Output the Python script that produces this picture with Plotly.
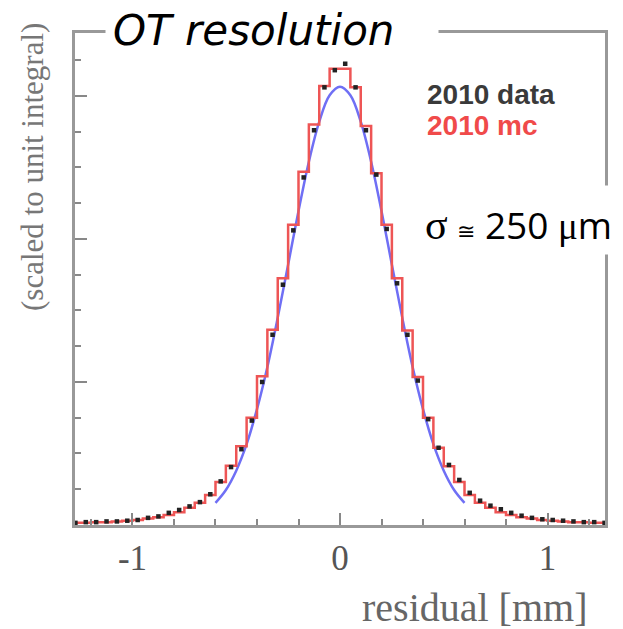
import plotly.graph_objects as go

# ---- data ----
bin_centers = [-1.275, -1.225, -1.175, -1.125, -1.075, -1.025, -0.975, -0.925, -0.875, -0.825,
               -0.775, -0.725, -0.675, -0.625, -0.575, -0.525, -0.475, -0.425, -0.375, -0.325,
               -0.275, -0.225, -0.175, -0.125, -0.075, -0.025,
               0.025, 0.075, 0.125, 0.175, 0.225, 0.275, 0.325, 0.375, 0.425, 0.475,
               0.525, 0.575, 0.625, 0.675, 0.725, 0.775, 0.825, 0.875, 0.925, 0.975,
               1.025, 1.075, 1.125, 1.175, 1.225, 1.275]

mc_2010 = [0.0003, 0.0003, 0.0004, 0.0004, 0.0005, 0.0006, 0.0007, 0.0009, 0.0011, 0.0014,
           0.0018, 0.0024, 0.0031, 0.0042, 0.0060, 0.0083, 0.0110, 0.0150, 0.0208, 0.0273,
           0.0345, 0.0420, 0.0494, 0.0560, 0.0614, 0.0638,
           0.0638, 0.0612, 0.0558, 0.0492, 0.0420, 0.0345, 0.0272, 0.0207, 0.0150, 0.0108,
           0.0082, 0.0060, 0.0042, 0.0031, 0.0024, 0.0018, 0.0014, 0.0011, 0.0009, 0.0007,
           0.0006, 0.0005, 0.0004, 0.0004, 0.0003, 0.0003]

data_2010 = [0.0003, 0.0004, 0.0004, 0.0005, 0.0005, 0.0006, 0.0007, 0.0010, 0.0012, 0.0017,
             0.0021, 0.0026, 0.0032, 0.0043, 0.0061, 0.0081, 0.0106, 0.0146, 0.0200, 0.0266,
             0.0336, 0.0412, 0.0486, 0.0552, 0.0612, 0.0636,
             0.0645, 0.0612, 0.0552, 0.0490, 0.0414, 0.0338, 0.0266, 0.0202, 0.0148, 0.0108,
             0.0084, 0.0063, 0.0045, 0.0034, 0.0027, 0.0022, 0.0017, 0.0013, 0.0010, 0.0008,
             0.0007, 0.0006, 0.0005, 0.0004, 0.0004, 0.0003]

fit_x = [-0.60, -0.55, -0.50, -0.45, -0.40, -0.35, -0.30, -0.25, -0.20, -0.15, -0.10, -0.05, 0.00,
         0.05, 0.10, 0.15, 0.20, 0.25, 0.30, 0.35, 0.40, 0.45, 0.50, 0.55, 0.60]
fit_y = [0.0031, 0.0049, 0.0076, 0.0113, 0.0162, 0.0221, 0.0290, 0.0364, 0.0439, 0.0508, 0.0564, 0.0601, 0.0613,
         0.0601, 0.0564, 0.0508, 0.0439, 0.0364, 0.0290, 0.0221, 0.0162, 0.0113, 0.0076, 0.0049, 0.0031]

x_tick_vals = [-1, 0, 1]
x_tick_text = ["-1", "0", "1"]

# ---- layout helpers (pixel -> paper) ----
W, H = 623, 629
L, R, T, B = 75, 18, 33, 104
PW, PH = W - L - R, H - T - B


def px(x):
    return (x - L) / PW


def py(y):
    return (H - B - y) / PH


fig = go.Figure()
fig.add_trace(go.Scatter(x=fit_x, y=fit_y, mode="lines", line=dict(color="#6f6ff5", width=2.5, shape="spline"),
                         showlegend=False, hoverinfo="skip"))
fig.add_trace(go.Scatter(x=bin_centers, y=mc_2010, mode="lines", line=dict(color="#ee5555", width=2.5, shape="hvh"),
                         showlegend=False))
fig.add_trace(go.Scatter(x=bin_centers, y=data_2010, mode="markers",
                         marker=dict(color="#222222", size=4.5, symbol="square"), showlegend=False))

gray = "#999999"
fig.update_xaxes(range=[-1.277, 1.277], showgrid=False, zeroline=False,
                 showline=True, linecolor=gray, linewidth=3, mirror=True,
                 tickmode="array", tickvals=x_tick_vals, ticktext=x_tick_text,
                 ticks="inside", ticklen=12, tickwidth=1.5, tickcolor="#888",
                 tickfont=dict(family="Liberation Serif", size=35, color="#555"),
                 minor=dict(tickmode="linear", tick0=0, dtick=0.2, ticks="inside", ticklen=6,
                            tickwidth=1.5, tickcolor="#888"))
fig.update_yaxes(range=[0, 0.0688], showgrid=False, zeroline=False,
                 showline=True, linecolor=gray, linewidth=3, mirror=True,
                 showticklabels=False, tickmode="linear", tick0=0, dtick=0.02,
                 ticks="inside", ticklen=12, tickwidth=1.5, tickcolor="#888",
                 minor=dict(tickmode="linear", tick0=0, dtick=0.005, ticks="inside", ticklen=6,
                            tickwidth=1.5, tickcolor="#888"))

annotations = [
    # y-axis title
    dict(text="(scaled to unit integral)", x=px(32), y=py(167), xref="paper", yref="paper",
         xanchor="center", yanchor="middle",
         textangle=-90, showarrow=False, font=dict(family="Liberation Serif", size=31, color="#777")),
    # x-axis title
    dict(text="residual [mm]", x=px(590), y=py(607), xref="paper", yref="paper", xanchor="right",
         yanchor="middle", showarrow=False, font=dict(family="Liberation Serif", size=40, color="#666")),
    # white box behind the title
    dict(text=" ", x=px(105), y=py(31), xref="paper", yref="paper",
         xanchor="left", yanchor="middle", width=330, height=40, bgcolor="white",
         showarrow=False, font=dict(size=10)),
    # title
    dict(text="<i>OT resolution</i>", x=px(111), y=py(31), xref="paper", yref="paper",
         xanchor="left", yanchor="middle", showarrow=False,
         font=dict(family="DejaVu Sans", size=42, color="black")),
    # legend texts
    dict(text="<b>2010 data</b>", x=px(425), y=py(95), xref="paper", yref="paper",
         xanchor="left", yanchor="middle", showarrow=False,
         font=dict(family="Liberation Sans", size=28, color="#3a3a3a")),
    dict(text="<b>2010 mc</b>", x=px(425), y=py(126), xref="paper", yref="paper",
         xanchor="left", yanchor="middle", showarrow=False,
         font=dict(family="Liberation Sans", size=28, color="#f04a4a")),
    # white box behind sigma text
    dict(text=" ", x=px(410), y=py(220), xref="paper", yref="paper",
         xanchor="left", yanchor="middle", width=213, height=66, bgcolor="white",
         showarrow=False, font=dict(size=10)),
    # sigma text
    dict(text="<span style='font-family:Liberation Serif;font-size:42px'>σ</span> <span style='font-size:22px'>≅</span> 250 <span style='font-family:Liberation Serif'>μ</span>m",
         x=px(423), y=py(224), xref="paper", yref="paper",
         xanchor="left", yanchor="middle", showarrow=False,
         font=dict(family="Open Sans", size=37, color="black")),
]

fig.update_layout(width=W, height=H, margin=dict(l=L, r=R, t=T, b=B),
                  paper_bgcolor="white", plot_bgcolor="white", showlegend=False,
                  annotations=annotations)

fig.write_html("out.html")
